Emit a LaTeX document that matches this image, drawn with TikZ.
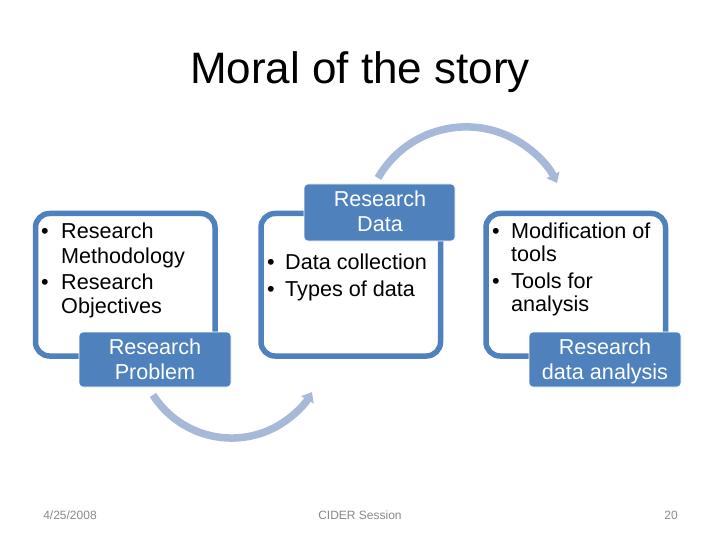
\documentclass[tikz,border=0pt]{standalone}
\usepackage{fontspec}
\setmainfont{Liberation Sans}
\usetikzlibrary{arrows.meta}
\definecolor{boxblue}{RGB}{79,129,189}
\definecolor{arcblue}{RGB}{167,185,216}
\definecolor{footgray}{RGB}{137,137,137}
\tikzset{
  outerbox/.style={draw=boxblue, line width=5.5pt, rounded corners=14pt, fill=white},
  labelbox/.style={draw=white, line width=0.6pt, fill=boxblue, rounded corners=4pt},
  bodytext/.style={anchor=base west, inner sep=0pt, font=\fontsize{21.6}{24}\selectfont},
  labeltext/.style={anchor=base, inner sep=0pt, text=white, font=\fontsize{21.6}{24}\selectfont},
  cyclearc/.style={draw=arcblue, line width=7.5pt, -{Triangle[width=14pt,length=9pt]}},
  foottext/.style={anchor=base, inner sep=0pt, text=footgray, font=\fontsize{12}{14}\selectfont}
}
\begin{document}
\begin{tikzpicture}[x=1pt,y=-1pt]
\useasboundingbox (0,0) rectangle (720,540);
\fill[white] (0,0) rectangle (720,540);

% title
\node[inner sep=0pt, anchor=base, font=\fontsize{44}{50}\selectfont] (title) at (360,84) {Moral of the story};

% arcs
\coordinate (arcAstart) at (378,178);
\draw[cyclearc] (arcAstart) arc[start angle=-150.2, end angle=-26.6, radius=101.6];
\coordinate (arcBstart) at (153,395);
\draw[cyclearc] (arcBstart) arc[start angle=147.4, end angle=30.5, radius=93.3];

% boxes
\draw[outerbox] (35.5,213.5) rectangle (215,356);
\draw[outerbox] (261,213.5) rectangle (440.5,356);
\draw[outerbox] (486,213.5) rectangle (665.5,356);

\draw[labelbox] (79,332) rectangle (231,387);
\draw[labelbox] (304,184) rectangle (455,241);
\draw[labelbox] (529,332) rectangle (681,387);

% box 1 text
\node[bodytext] (b1a) at (41,239) {\textbullet};
\node[bodytext] (b1t1) at (61,239) {Research};
\node[bodytext] (b1t2) at (61,263) {Methodology};
\node[bodytext] (b1b) at (41,289) {\textbullet};
\node[bodytext] (b1t3) at (61,289) {Research};
\node[bodytext] (b1t4) at (61,313) {Objectives};
\node[labeltext] (l1a) at (155,354) {Research};
\node[labeltext] (l1b) at (155,379) {Problem};

% box 2 text
\node[bodytext] (b2a) at (267,269) {\textbullet};
\node[bodytext] (b2t1) at (285,269) {Data collection};
\node[bodytext] (b2b) at (267,296) {\textbullet};
\node[bodytext] (b2t2) at (285,296) {Types of data};
\node[labeltext] (l2a) at (380,207) {Research};
\node[labeltext] (l2b) at (380,232) {Data};

% box 3 text
\node[bodytext] (b3a) at (492,238) {\textbullet};
\node[bodytext] (b3t1) at (511,238) {Modification of};
\node[bodytext] (b3t2) at (511,261) {tools};
\node[bodytext] (b3b) at (492,288) {\textbullet};
\node[bodytext] (b3t3) at (511,288) {Tools for};
\node[bodytext] (b3t4) at (511,311) {analysis};
\node[labeltext] (l3a) at (605,354) {Research};
\node[labeltext] (l3b) at (605,379) {data analysis};

% footer
\node[foottext] (fdate) at (70,519) {4/25/2008};
\node[foottext] (fsess) at (360,519) {CIDER Session};
\node[foottext] (fnum) at (671,519) {20};
\end{tikzpicture}
\end{document}
